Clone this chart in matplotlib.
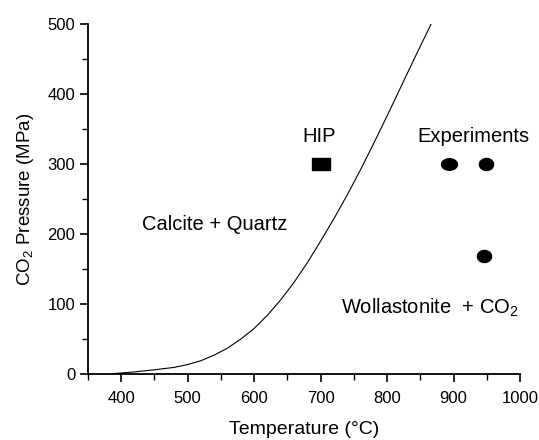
import numpy as np
import matplotlib
matplotlib.use("Agg")
from matplotlib import pyplot as plt
from matplotlib.ticker import MultipleLocator

plt.rcParams['font.family'] = ['Liberation Sans', 'DejaVu Sans']
plt.rcParams['mathtext.default'] = 'regular'

# phase boundary calcite + quartz = wollastonite + CO2
curve_T = [388, 420, 450, 480, 500, 520, 540, 560, 580, 600, 620, 640, 660, 680,
           700, 720, 740, 760, 780, 800, 820, 840, 866]
curve_P = [0.5, 3, 6, 9.5, 13.5, 19, 27, 37, 50, 65, 84, 106, 131, 159,
           190, 222, 256, 292, 330, 369, 409, 449, 500]

# HIP condition
hip_T = [700]
hip_P = [300]

# experiment conditions
exp_T = [893, 948, 946]
exp_P = [300, 300, 168]
exp_shape = ['wide', 'round', 'round']

fig = plt.figure(figsize=(5.39, 4.4), dpi=100)
ax = fig.add_axes([0.163, 0.15, 0.802, 0.795])

ax.plot(curve_T, curve_P, color='black', lw=0.8)

rect = [(-1, -0.65), (1, -0.65), (1, 0.65), (-1, 0.65), (-1, -0.65)]
ax.plot(hip_T, hip_P, linestyle='none', marker=rect, markersize=12.5, color='black')

wide = [(np.cos(a), 0.72 * np.sin(a)) for a in np.linspace(0, 2 * np.pi, 40)]
round_ = [(np.cos(a), 0.85 * np.sin(a)) for a in np.linspace(0, 2 * np.pi, 40)]
for t, p, s in zip(exp_T, exp_P, exp_shape):
    m = wide if s == 'wide' else round_
    ax.plot([t], [p], linestyle='none', marker=m, markersize=11.5 if s == 'wide' else 10.2,
            color='black')

fs = 14.5
ax.text(698, 340, 'HIP', fontsize=fs, ha='center', va='center')
ax.text(930, 340, 'Experiments', fontsize=fs, ha='center', va='center')
ax.text(431, 213, 'Calcite + Quartz', fontsize=fs, ha='left', va='center')
ax.text(731, 94, 'Wollastonite  + CO$_2$', fontsize=fs, ha='left', va='center')

ax.set_xlim(350, 1000)
ax.set_ylim(0, 500)
ax.xaxis.set_major_locator(MultipleLocator(100))
ax.xaxis.set_minor_locator(MultipleLocator(50))
ax.yaxis.set_major_locator(MultipleLocator(100))
ax.yaxis.set_minor_locator(MultipleLocator(50))
ax.set_xticks([400, 500, 600, 700, 800, 900, 1000])

for s in ['top', 'right']:
    ax.spines[s].set_visible(False)
for s in ['left', 'bottom']:
    ax.spines[s].set_linewidth(1.3)
ax.tick_params(which='major', direction='out', length=6, width=1.2, labelsize=12)
ax.tick_params(axis='x', which='major', pad=6)
ax.tick_params(axis='y', which='major', pad=3)
ax.tick_params(which='minor', direction='out', length=4, width=1.0)

ax.set_xlabel('Temperature (°C)', fontsize=14, labelpad=11)
ax.set_ylabel('CO$_2$ Pressure (MPa)', fontsize=13.5, labelpad=8)

fig.savefig('out.png', dpi=100)
